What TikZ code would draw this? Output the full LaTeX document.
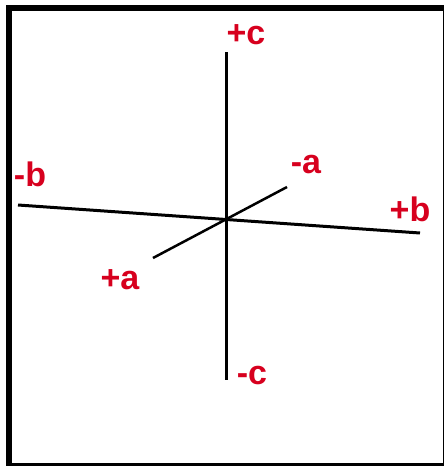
\documentclass[tikz,border=0pt]{standalone}
\usepackage{fontspec}
\setmainfont{Liberation Sans}
\usepackage{xcolor}
\definecolor{axislabel}{RGB}{215,0,30}

\tikzset{
  lbl/.style={text=axislabel, font=\fontsize{34}{34}\selectfont\bfseries, inner sep=0pt},
  axis/.style={line width=3pt, black}
}

\begin{document}
\begin{tikzpicture}[x=1pt, y=-1pt]
        \clip (0,0) rectangle (444,466);
        \draw[line width=6pt] (9,8) rectangle (445.7,465.7);

        % axis ends
        \coordinate (ctop) at (226,52);
        \coordinate (cbot) at (226,380);
        \coordinate (bleft) at (18,205);
        \coordinate (bright) at (420,233);
        \coordinate (afront) at (153,258);
        \coordinate (aback) at (287,187);

        \draw[axis] (ctop) -- (cbot);
        \draw[axis] (bleft) -- (bright);
        \draw[axis, line width=2.5pt] (afront) -- (aback);

        \node (pc) at (246,35) [lbl] {+c};
        \node (mc) at (252,376) [lbl] {-c};
        \node (mb) at (30,174) [lbl] {-b};
        \node (pb) at (410,209) [lbl] {+b};
        \node (ma) at (306,165) [lbl] {-a};
        \node (pa) at (120,280) [lbl] {+a};
    \end{tikzpicture}
\end{document}
